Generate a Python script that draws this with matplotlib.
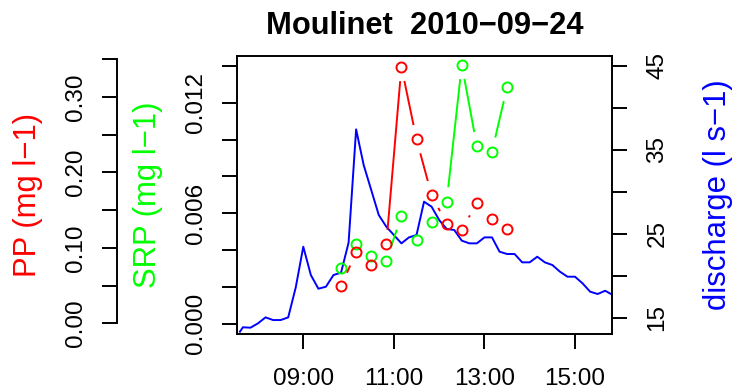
import numpy as np
import pandas as pd
import matplotlib
matplotlib.use("Agg")
import matplotlib.pyplot as plt

plt.rcParams['font.family'] = ['Liberation Sans', 'DejaVu Sans']

# discharge, 10 min steps (first reading a bit earlier)
discharge_times = ["07:36"] + list(pd.date_range("2010-09-24 07:40", "2010-09-24 15:50", freq="10min").strftime("%H:%M"))
discharge = [13.33, 13.86, 13.81, 14.33, 15.04, 14.72, 14.72, 15.04, 18.61,
             23.45, 20.08, 18.45, 18.69, 20.08, 20.36,
             23.93, 37.42, 33.17, 30.20, 27.22, 25.83,
             24.84, 23.85, 24.56, 24.84, 28.81, 28.21,
             26.63, 25.56, 25.44, 24.17, 23.85, 23.85,
             24.56, 24.56, 22.86, 22.58, 22.58, 21.59,
             21.59, 22.26, 21.59, 21.27, 20.48, 19.88,
             19.88, 19.09, 18.10, 17.82, 18.21, 17.70]

sample_times = ["09:50", "10:10", "10:30", "10:50", "11:10", "11:30",
                "11:50", "12:10", "12:30", "12:50", "13:10", "13:30"]
pp = [0.0495, 0.0941, 0.0773, 0.1047, 0.3403, 0.2440,
      0.1701, 0.1317, 0.1237, 0.1600, 0.1383, 0.1251]
srp = [0.00302, 0.00434, 0.00367, 0.00343, 0.00585, 0.00454,
       0.00554, 0.00663, 0.01406, 0.00963, 0.00934, 0.01285]

xtick_labels = ["09:00", "11:00", "13:00", "15:00"]


def to_hours(s):
    h, m = s.split(":")
    return int(h) + int(m) / 60.0


def plot_type_b(ax, x, y, color, gap_px=14.5, lw=1.4):
    # R style type="b": circles joined by lines that stop short of each point
    pts = ax.transData.transform(np.column_stack([x, y]))
    inv = ax.transData.inverted()
    for p0, p1 in zip(pts[:-1], pts[1:]):
        d = p1 - p0
        length = np.hypot(*d)
        if length <= 2 * gap_px:
            continue
        u = d / length
        seg = inv.transform(np.array([p0 + u * gap_px, p1 - u * gap_px]))
        ax.plot(seg[:, 0], seg[:, 1], color=color, lw=lw, solid_capstyle='butt')
    ax.plot(x, y, linestyle='none', marker='o', markersize=7.2,
            markerfacecolor='none', markeredgecolor=color, markeredgewidth=1.4)


W, H = 736, 392
fig = plt.figure(figsize=(W / 100, H / 100), dpi=100)
left, right, top, bottom = 237, 612, 56, 334
pos = [left / W, 1 - bottom / H, (right - left) / W, (bottom - top) / H]

FS = 17.5
FS_LAB = 22.4
TICKLEN = 10.8
PAD = 10.5
PAD_FAR = 14.0   # bottom and right labels sit a bit further out
LW = 1.4

xlim = (7.536, 15.817)
tq = [to_hours(t) for t in discharge_times]
ts = [to_hours(t) for t in sample_times]

# discharge axes (box, x axis, right axis)
ax = fig.add_axes(pos)
ax.plot(tq, discharge, color='#0000FF', lw=LW)
ax.set_xlim(*xlim)
ax.set_ylim(13.06, 46.15)
for sp in ax.spines.values():
    sp.set_linewidth(LW)
ax.yaxis.tick_right()
ax.set_yticks(np.arange(15, 46, 5))
ax.set_yticklabels(["15", "", "25", "", "35", "", "45"], rotation=90, va='center')
ax.set_xticks([to_hours(t) for t in xtick_labels])
ax.set_xticklabels(xtick_labels)
ax.tick_params(axis='both', length=TICKLEN, width=LW, labelsize=FS, pad=PAD_FAR)

# SRP axes on the box's left side
ax_srp = fig.add_axes(pos, facecolor='none')
ax_srp.set_xlim(*xlim)
ax_srp.set_ylim(-0.00055, 0.01453)
for sp in ax_srp.spines.values():
    sp.set_visible(False)
ax_srp.set_xticks([])
ax_srp.set_yticks(np.arange(0, 0.0141, 0.002))
ax_srp.set_yticklabels(["0.000", "", "", "0.006", "", "", "0.012", ""], rotation=90, va='center')
ax_srp.tick_params(axis='y', length=TICKLEN, width=LW, labelsize=FS, pad=PAD)
plot_type_b(ax_srp, ts, srp, '#00FF00')

# PP axes, axis line pushed out to the left
ax_pp = fig.add_axes(pos, facecolor='none')
ax_pp.set_xlim(*xlim)
ax_pp.set_ylim(-0.0142, 0.3545)
for name, sp in ax_pp.spines.items():
    if name != 'left':
        sp.set_visible(False)
ax_pp.spines['left'].set_position(('axes', -(left - 117) / (right - left)))
ax_pp.spines['left'].set_bounds(0, 0.35)
ax_pp.spines['left'].set_linewidth(LW)
ax_pp.set_xticks([])
ax_pp.set_yticks(np.arange(0, 0.351, 0.05))
ax_pp.set_yticklabels(["0.00", "", "0.10", "", "0.20", "", "0.30", ""], rotation=90, va='center')
ax_pp.tick_params(axis='y', length=TICKLEN, width=LW, labelsize=FS, pad=PAD)
plot_type_b(ax_pp, ts, pp, '#FF0000')

# axis titles
ymid = 1 - ((top + bottom) / 2) / H
fig.text(28 / W, ymid, "PP (mg l\u22121)", color='#FF0000', fontsize=FS_LAB,
         rotation=90, ha='center', va='center')
fig.text(148 / W, ymid, "SRP (mg l\u22121)", color='#00FF00', fontsize=FS_LAB,
         rotation=90, ha='center', va='center')
fig.text(718 / W, ymid, "discharge (l s\u22121)", color='#0000FF', fontsize=FS_LAB,
         rotation=90, ha='center', va='center')

fig.text((left + right) / 2 / W, 1 - 34 / H, "Moulinet  2010\u221209\u221224",
         fontsize=22.2, fontweight='bold', ha='center', va='baseline')

fig.savefig("out.png", dpi=100)
